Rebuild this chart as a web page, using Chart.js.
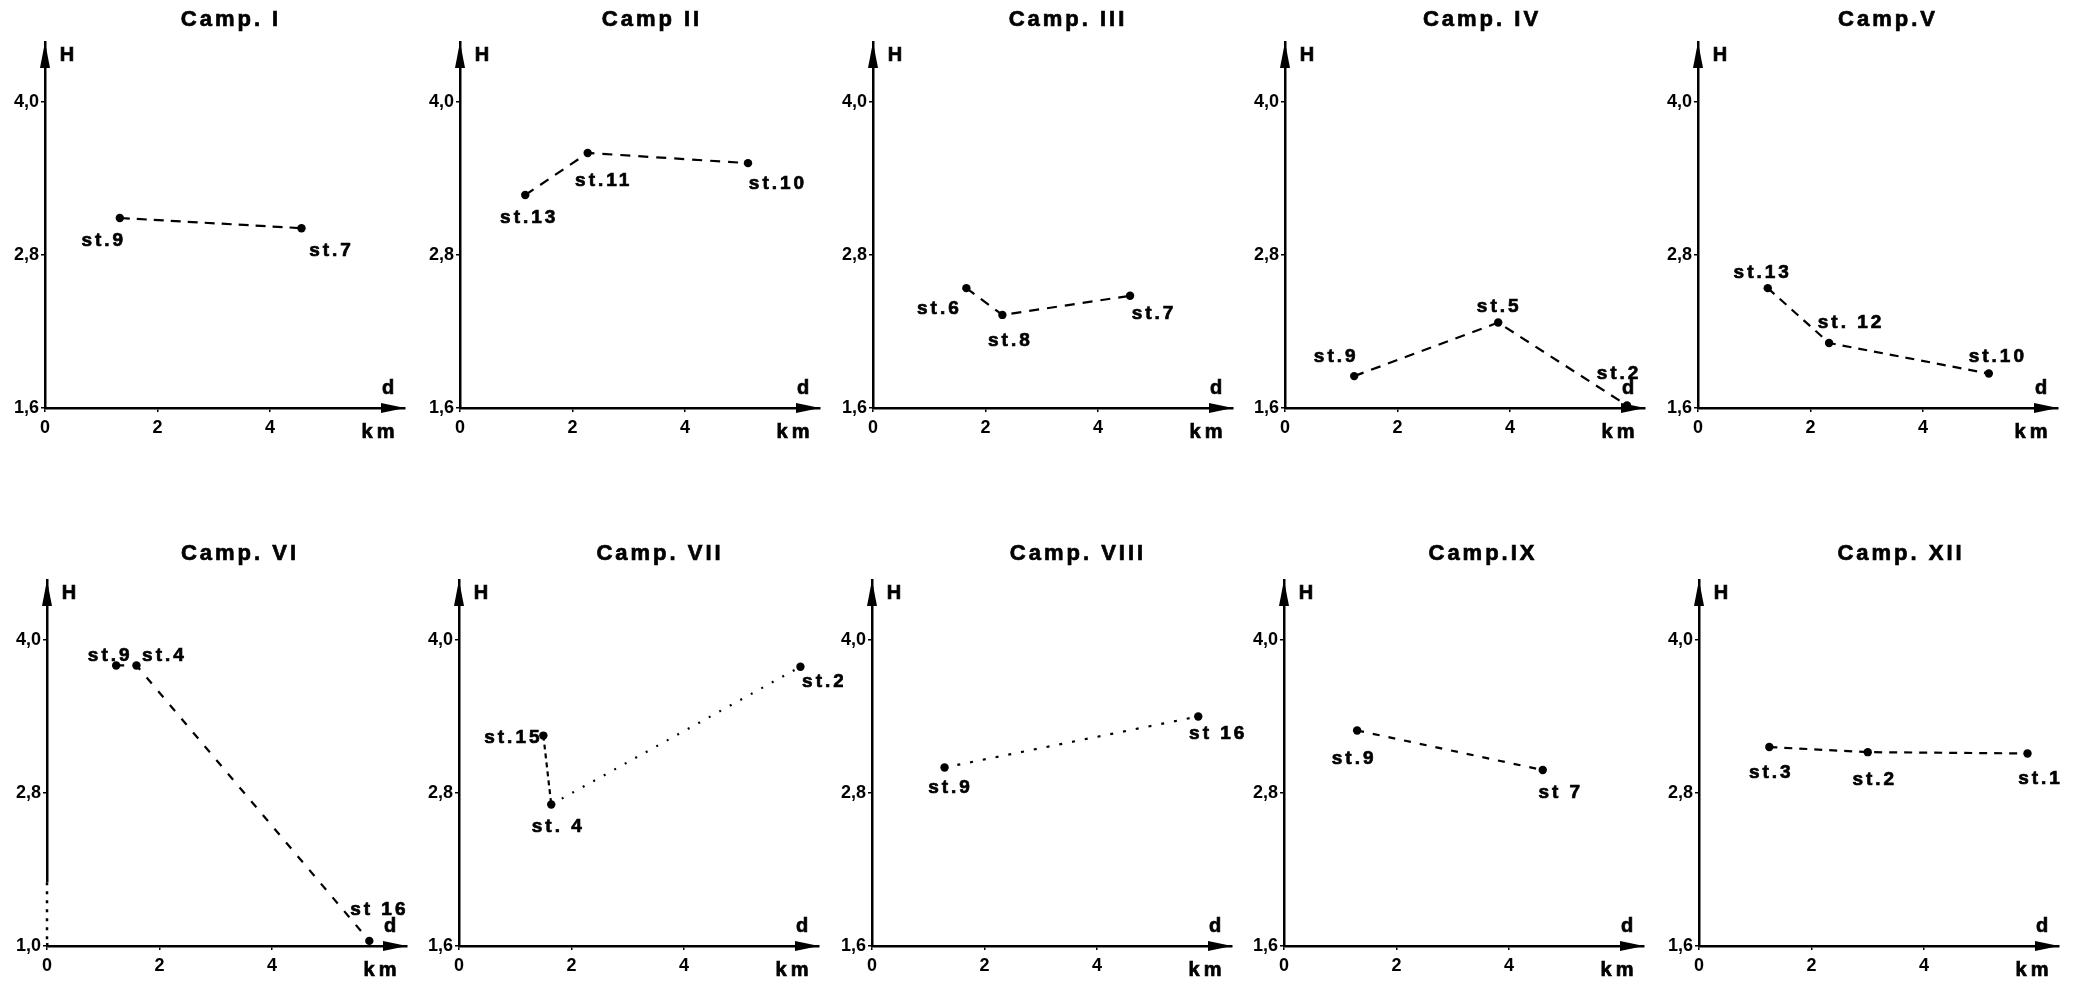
<!DOCTYPE html>
<html>
<head>
<meta charset="utf-8">
<script src="https://cdn.jsdelivr.net/npm/chart.js@4.4.1/dist/chart.umd.min.js"></script>
<style>
html, body { margin: 0; padding: 0; background: #fff; }
body { width: 2090px; height: 986px; position: relative; overflow: hidden; }
canvas { position: absolute; }
</style>
</head>
<body>
<script>
// axis ticks (shared)
const xTicks = [0, 2, 4];
const yTicks = [1.6, 2.8, 4.0];
const yTickLabels = ['1,6', '2,8', '4,0'];
const yTickLabelsVI = ['1,0', '2,8', '4,0'];

// distance d (km) / H per station
const campI_d = [1.33, 4.56];
const campI_H = [3.09, 3.01];
const campI_st = ['st.9', 'st.7'];

const campII_d = [1.16, 2.27, 5.12];
const campII_H = [3.27, 3.60, 3.52];
const campII_st = ['st.13', 'st.11', 'st.10'];

const campIII_d = [1.66, 2.30, 4.57];
const campIII_H = [2.54, 2.33, 2.48];
const campIII_st = ['st.6', 'st.8', 'st.7'];

const campIV_d = [1.23, 3.79, 6.08];
const campIV_H = [1.85, 2.27, 1.62];
const campIV_st = ['st.9', 'st.5', 'st.2'];

const campV_d = [1.24, 2.33, 5.17];
const campV_H = [2.54, 2.11, 1.87];
const campV_st = ['st.13', 'st. 12', 'st.10'];

const campVI_d = [1.23, 1.59, 5.73];
const campVI_H = [3.80, 3.80, 1.64];
const campVI_st = ['st.9', 'st.4', 'st 16'];

const campVII_d = [1.50, 1.64, 6.07];
const campVII_H = [3.25, 2.71, 3.79];
const campVII_st = ['st.15', 'st. 4', 'st.2'];

const campVIII_d = [1.29, 5.80];
const campVIII_H = [3.00, 3.40];
const campVIII_st = ['st.9', 'st 16'];

const campIX_d = [1.30, 4.60];
const campIX_H = [3.29, 2.98];
const campIX_st = ['st.9', 'st 7'];

const campXII_d = [1.25, 3.00, 5.84];
const campXII_H = [3.16, 3.12, 3.11];
const campXII_st = ['st.3', 'st.2', 'st.1'];

// label offsets from each point (px)
const campI_lab = [[-17, 23], [29, 23]];
const campII_lab = [[3, 23], [15, 28], [29, 21]];
const campIII_lab = [[-28, 21], [7, 26], [23, 18]];
const campIV_lab = [[-19, -19], [0, -16], [-9, -32]];
const campV_lab = [[-6, -15], [21, -20], [8, -17]];
const campVI_lab = [[-7, -10], [27, -10], [9, -31]];
const campVII_lab = [[-31, 2], [6, 22], [23, 15]];
const campVIII_lab = [[5, 20], [19, 17]];
const campIX_lab = [[-4, 28], [17, 23]];
const campXII_lab = [[1, 26], [6, 28], [12, 25]];

const FONT = '"Liberation Sans", Arial, sans-serif';

const panels = [
    { title: 'Camp. I',    d: campI_d,    H: campI_H,    st: campI_st,    lab: campI_lab,    axisX: 45,   row: 0, titleX: 186, dash: [10, 7] },
    { title: 'Camp II',    d: campII_d,   H: campII_H,   st: campII_st,   lab: campII_lab,   axisX: 460,  row: 0, titleX: 192, dash: [10, 8] },
    { title: 'Camp. III',  d: campIII_d,  H: campIII_H,  st: campIII_st,  lab: campIII_lab,  axisX: 873,  row: 0, titleX: 195, dash: [10, 8] },
    { title: 'Camp. IV',   d: campIV_d,   H: campIV_H,   st: campIV_st,   lab: campIV_lab,   axisX: 1285, row: 0, titleX: 197, dash: [10, 8] },
    { title: 'Camp.V',     d: campV_d,    H: campV_H,    st: campV_st,    lab: campV_lab,    axisX: 1698, row: 0, titleX: 190, dash: [9, 7] },
    { title: 'Camp. VI',   d: campVI_d,   H: campVI_H,   st: campVI_st,   lab: campVI_lab,   axisX: 47,   row: 1, titleX: 193, dash: [8, 10], yLabels: yTickLabelsVI, brokenAxis: 2.1 },
    { title: 'Camp. VII',  d: campVII_d,  H: campVII_H,  st: campVII_st,  lab: campVII_lab,  axisX: 459,  row: 1, titleX: 201, segDash: [[5, 4], [2, 10]] },
    { title: 'Camp. VIII', d: campVIII_d, H: campVIII_H, st: campVIII_st, lab: campVIII_lab, axisX: 872,  row: 1, titleX: 206, dash: [3, 10] },
    { title: 'Camp.IX',    d: campIX_d,   H: campIX_H,   st: campIX_st,   lab: campIX_lab,   axisX: 1284, row: 1, titleX: 199, dash: [7, 9] },
    { title: 'Camp. XII',  d: campXII_d,  H: campXII_H,  st: campXII_st,  lab: campXII_lab,  axisX: 1699, row: 1, titleX: 202, dash: [8, 7] }
];

const rowTop = [0, 538];
const titleY = [20, 16];

// text drawn a little heavier, like the printed figure
function boldText(ctx, txt, x, y) {
    ctx.fillText(txt, x, y);
    ctx.strokeText(txt, x, y);
}

// arrows, axis letters, station names and panel titles
const panelDeco = {
    id: 'panelDeco',
    afterDraw(chart, args, o) {
        const ctx = chart.ctx;
        const a = chart.chartArea;
        ctx.save();
        ctx.fillStyle = '#000';
        ctx.strokeStyle = '#000';

        if (o.brokenAxis) {
            const yb = chart.scales.y.getPixelForValue(o.brokenAxis);
            ctx.fillStyle = '#fff';
            ctx.fillRect(a.left - 3, yb, 6, a.bottom - yb - 3);
            ctx.fillStyle = '#000';
            ctx.lineWidth = 2.5;
            ctx.setLineDash([3, 6]);
            ctx.beginPath();
            ctx.moveTo(a.left, yb);
            ctx.lineTo(a.left, a.bottom);
            ctx.stroke();
            ctx.setLineDash([]);
        }

        ctx.beginPath();
        ctx.moveTo(a.left, a.top);
        ctx.lineTo(a.left - 5, a.top + 26);
        ctx.lineTo(a.left + 5, a.top + 26);
        ctx.closePath();
        ctx.fill();

        ctx.beginPath();
        ctx.moveTo(a.right, a.bottom);
        ctx.lineTo(a.right - 24, a.bottom - 5);
        ctx.lineTo(a.right - 24, a.bottom + 5);
        ctx.closePath();
        ctx.fill();

        ctx.lineWidth = 0.7;
        ctx.textBaseline = 'middle';
        ctx.textAlign = 'center';
        ctx.font = 'bold 20px ' + FONT;
        boldText(ctx, 'H', a.left + 22, a.top + 13);
        boldText(ctx, 'd', a.right - 17, a.bottom - 20);
        ctx.letterSpacing = '4px';
        boldText(ctx, 'km', a.right - 25, a.bottom + 24);

        ctx.font = 'bold 19px ' + FONT;
        ctx.letterSpacing = '3px';
        const meta = chart.getDatasetMeta(0);
        meta.data.forEach((pt, i) => {
            const off = o.lab[i];
            boldText(ctx, o.st[i], pt.x + off[0] + 1, pt.y + off[1]);
        });

        ctx.font = 'bold 22px ' + FONT;
        ctx.letterSpacing = '3px';
        boldText(ctx, o.title, a.left + o.titleX, o.titleY);
        ctx.restore();
    }
};

panels.forEach(p => {
    const canvas = document.createElement('canvas');
    canvas.width = 430;
    canvas.height = 448;
    canvas.style.left = (p.axisX - 46) + 'px';
    canvas.style.top = rowTop[p.row] + 'px';
    document.body.appendChild(canvas);

    const labels = p.yLabels || yTickLabels;
    const tickFont = { family: FONT, size: 18, weight: 'bold' };

    const ds = {
        data: p.d.map((x, i) => ({ x: x, y: p.H[i] })),
        showLine: true,
        borderColor: '#000',
        borderWidth: 2.2,
        borderDash: p.dash || [],
        pointRadius: 4.2,
        pointBorderWidth: 0,
        pointBackgroundColor: '#000',
        clip: false
    };
    if (p.segDash) {
        ds.segment = { borderDash: c => p.segDash[c.p0DataIndex] };
    }

    new Chart(canvas, {
        type: 'scatter',
        data: { datasets: [ds] },
        options: {
            responsive: false,
            animation: false,
            events: [],
            layout: { padding: { top: 42, right: 24, left: 0, bottom: 0 } },
            plugins: {
                legend: { display: false },
                tooltip: { enabled: false },
                panelDeco: { title: p.title, titleX: p.titleX, st: p.st, lab: p.lab, titleY: titleY[p.row], brokenAxis: p.brokenAxis }
            },
            scales: {
                x: {
                    type: 'linear',
                    min: 0,
                    max: 6.4,
                    afterBuildTicks: s => { s.ticks = xTicks.map(v => ({ value: v })); },
                    afterFit: s => { s.height = 40; },
                    ticks: { font: tickFont, color: '#000', padding: 5, maxRotation: 0 },
                    grid: { display: true, drawOnChartArea: false, drawTicks: true, tickLength: 4, color: '#000', lineWidth: 1.5 },
                    border: { display: true, color: '#000', width: 2.5 }
                },
                y: {
                    type: 'linear',
                    min: 1.6,
                    max: 4.47,
                    afterBuildTicks: s => { s.ticks = yTicks.map(v => ({ value: v })); },
                    afterFit: s => { s.width = 46; },
                    ticks: { font: tickFont, color: '#000', padding: 2, callback: (v, i) => labels[i] },
                    grid: { display: true, drawOnChartArea: false, drawTicks: true, tickLength: 4, color: '#000', lineWidth: 1.5 },
                    border: { display: true, color: '#000', width: 2.5 }
                }
            }
        },
        plugins: [panelDeco]
    });
});
</script>
</body>
</html>
